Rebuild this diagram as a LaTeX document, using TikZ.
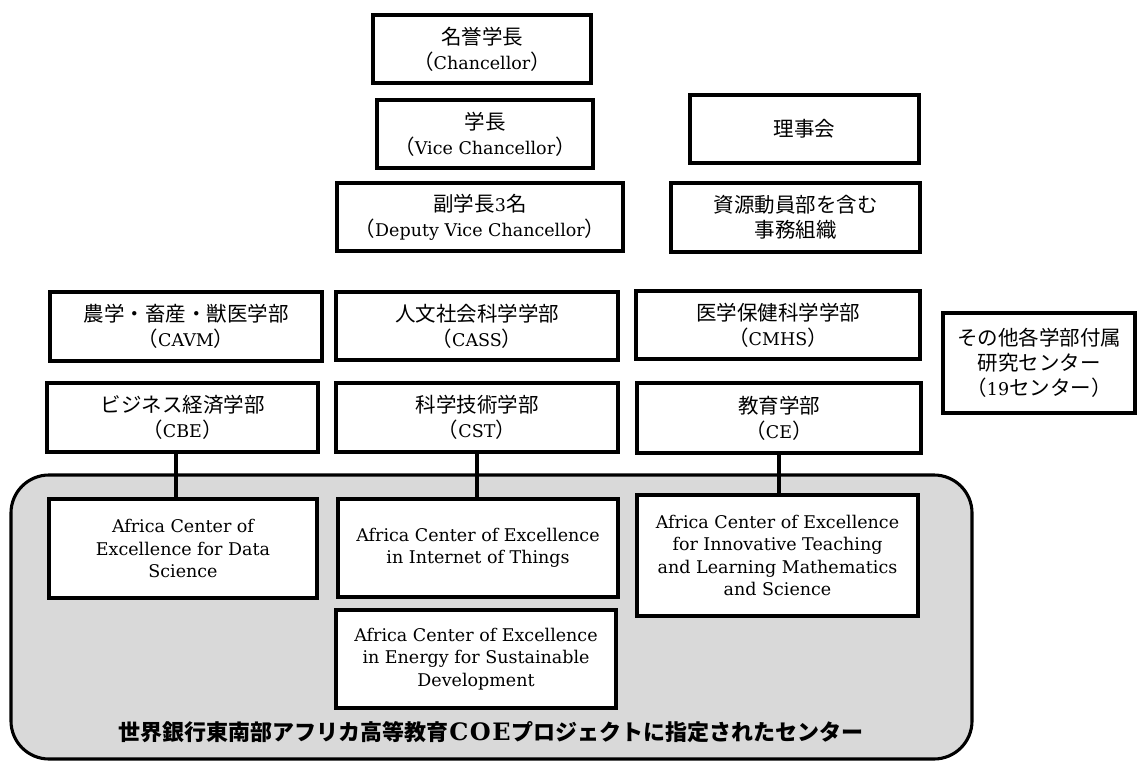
\documentclass[tikz,border=0pt]{standalone}
\usepackage{fontspec}
\setmainfont{DejaVu Serif}
\newfontfamily\cjk{Noto Sans CJK JP}
\usetikzlibrary{calc}
\newcommand{\jp}[1]{{\cjk\fontsize{20.5}{25}\selectfont #1}}
\definecolor{coegray}{RGB}{217,217,217}
\begin{document}
\begin{tikzpicture}[x=1pt,y=-1pt,
  box/.style={draw, line width=3.1pt, fill=white, align=center, inner sep=0pt,
    font=\fontsize{17.5}{22.5}\selectfont},
  jbox/.style={box, font=\fontsize{17.5}{25}\selectfont},
  link/.style={line width=3.1pt},
  coeframe/.style={draw, line width=3.1pt, fill=coegray, rounded corners=38pt}]
\useasboundingbox (0,0) rectangle (1137,762);

% container
\node[coeframe, minimum width=961, minimum height=284] (coe) at (491.5,617) {};

% top column
\node[jbox, minimum width=218, minimum height=68] (chan) at (482,49)
  {\jp{名誉学長}\\\jp{（}Chancellor\jp{）}};
\node[jbox, minimum width=216, minimum height=68] (vc) at (485,134)
  {\jp{学長}\\\jp{（}Vice Chancellor\jp{）}};
\node[jbox, minimum width=286, minimum height=68] (dvc) at (480,217)
  {\jp{副学長}3\jp{名}\\\jp{（}Deputy Vice Chancellor\jp{）}};
\node[jbox, minimum width=229, minimum height=68] (board) at (804.5,129)
  {\jp{理事会}};
\node[jbox, minimum width=249, minimum height=69] (admin) at (795.5,217.5)
  {\jp{資源動員部を含む}\\\jp{事務組織}};

% faculties
\node[jbox, minimum width=272, minimum height=69] (cavm) at (186,326.5)
  {\jp{農学・畜産・獣医学部}\\\jp{（}CAVM\jp{）}};
\node[jbox, minimum width=282, minimum height=68] (cass) at (477,326)
  {\jp{人文社会科学学部}\\\jp{（}CASS\jp{）}};
\node[jbox, minimum width=284, minimum height=68] (cmhs) at (778,325)
  {\jp{医学保健科学学部}\\\jp{（}CMHS\jp{）}};
\node[jbox, minimum width=192, minimum height=100] (other) at (1039,363)
  {\jp{その他各学部付属}\\\jp{研究センター}\\\jp{（}19\jp{センター）}};
\node[jbox, minimum width=271, minimum height=69] (cbe) at (182.5,417.5)
  {\jp{ビジネス経済学部}\\\jp{（}CBE\jp{）}};
\node[jbox, minimum width=282, minimum height=69] (cst) at (477,417.5)
  {\jp{科学技術学部}\\\jp{（}CST\jp{）}};
\node[jbox, minimum width=284, minimum height=70] (ce) at (779,418)
  {\jp{教育学部}\\\jp{（}CE\jp{）}};

% centres of excellence
\node[box, minimum width=268, minimum height=99] (ds) at (183,548.5)
  {Africa Center of\\Excellence for Data\\Science};
\node[box, minimum width=280, minimum height=98] (iot) at (478,548)
  {Africa Center of Excellence\\in Internet of Things};
\node[box, minimum width=280, minimum height=98] (energy) at (476,659)
  {Africa Center of Excellence\\in Energy for Sustainable\\Development};
\node[box, minimum width=281, minimum height=121] (innov) at (777.5,555.5)
  {Africa Center of Excellence\\for Innovative Teaching\\and Learning Mathematics\\and Science};

% connectors
\coordinate (k1) at (176,0);
\draw[link] (k1 |- cbe.south) -- (k1 |- ds.north);
\draw[link] (cst.south) -- (cst.south |- iot.north);
\draw[link] (ce.south) -- (ce.south |- innov.north);

% caption
\node[font=\cjk\bfseries\fontsize{22}{26}\selectfont, inner sep=0pt] (title) at (491,732)
  {世界銀行東南部アフリカ高等教育{\rmfamily\bfseries\fontsize{24}{26}\selectfont\kern1pt C\kern1.5pt O\kern1.5pt E\kern1pt}プロジェクトに指定されたセンター};
\end{tikzpicture}
\end{document}
